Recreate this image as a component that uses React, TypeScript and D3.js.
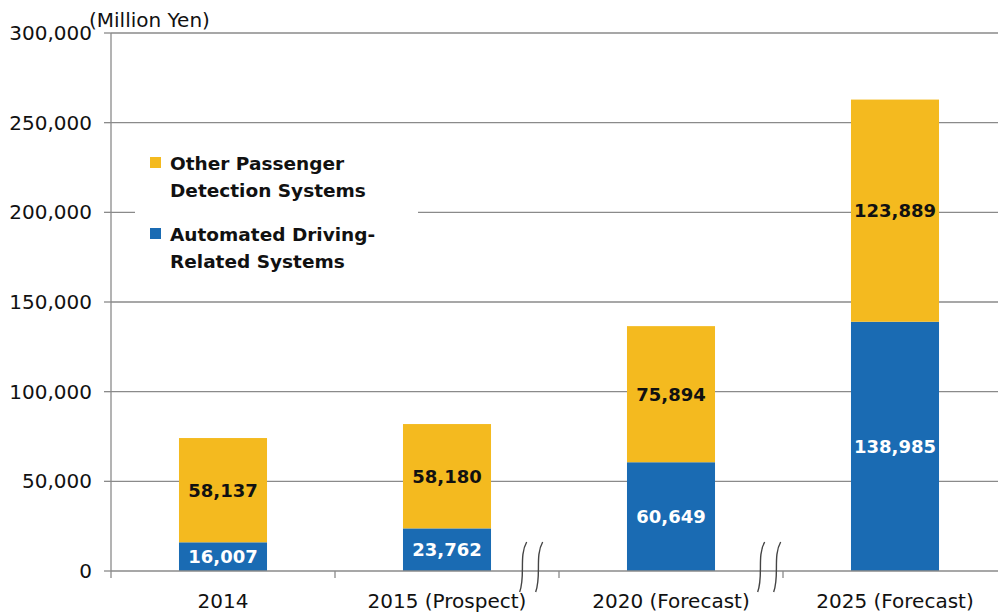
import React from 'react';
import * as d3 from 'd3';

const categories = ['2014', '2015 (Prospect)', '2020 (Forecast)', '2025 (Forecast)'];
const automated = [16007, 23762, 60649, 138985];
const otherPassenger = [58137, 58180, 75894, 123889];
const yTicks = [0, 50000, 100000, 150000, 200000, 250000, 300000];
const seriesNames = ['Other Passenger|Detection Systems', 'Automated Driving-|Related Systems'];

const W = 998;
const H = 613;
const BLUE = '#1a6bb3';
const YELLOW = '#f4ba1f';
const GRID = '#8a8a8a';
const FONT = '"DejaVu Sans", sans-serif';

const App = () => {
  const left = 111;
  const x = d3.scaleBand<string>()
    .domain(categories)
    .range([left, left + 224 * 4])
    .paddingInner(0.607)
    .paddingOuter(0.3035);
  const y = d3.scaleLinear().domain([0, 300000]).range([571, 33]);
  const fmt = d3.format(',');

  const rows = categories.map((c, i) => ({ c, a: automated[i], o: otherPassenger[i] }));
  // break marks sit a bit left of the 2020 / 2025 category boundaries
  const breaks = [x(categories[2])! - x.step() * 0.18 - 64, x(categories[3])! - x.step() * 0.18 - 50];

  return (
    <svg width={W} height={H} style={{ position: 'absolute', left: 0, top: 0, background: '#fff' }}>
      {/* grid */}
      {yTicks.filter(t => t > 0).map(t => (
        <line key={t} x1={left} x2={W} y1={y(t)} y2={y(t)} stroke={GRID} strokeWidth={1.3} />
      ))}
      {yTicks.map(t => (
        <g key={'t' + t}>
          <line x1={left - 7} x2={left} y1={y(t)} y2={y(t)} stroke={GRID} strokeWidth={1.3} />
          <text x={92} y={y(t)} dy="0.35em" textAnchor="end" fontFamily={FONT} fontSize={20} fill="#111">
            {fmt(t)}
          </text>
        </g>
      ))}
      <text x={89} y={27} fontFamily={FONT} fontSize={20} fill="#111">(Million Yen)</text>

      {/* legend box (covers grid) */}
      <rect x={135} y={145} width={283} height={135} fill="#fff" />
      {seriesNames.map((s, i) => {
        const top = 157 + i * 71;
        return (
          <g key={s}>
            <rect x={150} y={top} width={11} height={11} fill={i === 0 ? YELLOW : BLUE} />
            {s.split('|').map((line, j) => (
              <text key={j} x={170} y={top + 13 + j * 27} fontFamily={FONT} fontWeight="bold" fontSize={18.5} fill="#111">
                {line}
              </text>
            ))}
          </g>
        );
      })}

      {/* bars */}
      {rows.map(r => {
        const bx = x(r.c)!;
        const bw = x.bandwidth();
        const yA = y(r.a);
        const yT = y(r.a + r.o);
        return (
          <g key={r.c}>
            <rect x={bx} y={yA} width={bw} height={y(0) - yA} fill={BLUE} />
            <rect x={bx} y={yT} width={bw} height={yA - yT} fill={YELLOW} />
            <text x={bx + bw / 2} y={(yA + y(0)) / 2} dy="0.36em" textAnchor="middle" fontFamily={FONT} fontWeight="bold" fontSize={18} fill="#fff">
              {fmt(r.a)}
            </text>
            <text x={bx + bw / 2} y={(yT + yA) / 2} dy="0.36em" textAnchor="middle" fontFamily={FONT} fontWeight="bold" fontSize={18} fill="#111">
              {fmt(r.o)}
            </text>
          </g>
        );
      })}

      {/* axes */}
      <line x1={left} x2={left} y1={y(300000)} y2={y(0)} stroke={GRID} strokeWidth={1.3} />
      <line x1={left} x2={W} y1={y(0)} y2={y(0)} stroke={GRID} strokeWidth={1.3} />
      {categories.map(c => {
        const tx = x(c)! - x.step() * x.paddingOuter();
        return <line key={'xt' + c} x1={tx} x2={tx} y1={y(0)} y2={y(0) + 7} stroke={GRID} strokeWidth={1.3} />;
      })}
      {categories.map(c => (
        <text key={'xl' + c} x={x(c)! + x.bandwidth() / 2} y={608} textAnchor="middle" fontFamily={FONT} fontSize={20} fill="#111">
          {c}
        </text>
      ))}

      {/* axis break marks */}
      {breaks.map((bx, i) => (
        <g key={'b' + i} fill="none" stroke="#444" strokeWidth={1.4}>
          {[0, 16].map(off => (
            <path key={off} d={`M${bx + off + 4},542 C${bx + off - 4},556 ${bx + off + 3},576 ${bx + off - 3},592`} />
          ))}
        </g>
      ))}
    </svg>
  );
};

export default App;
